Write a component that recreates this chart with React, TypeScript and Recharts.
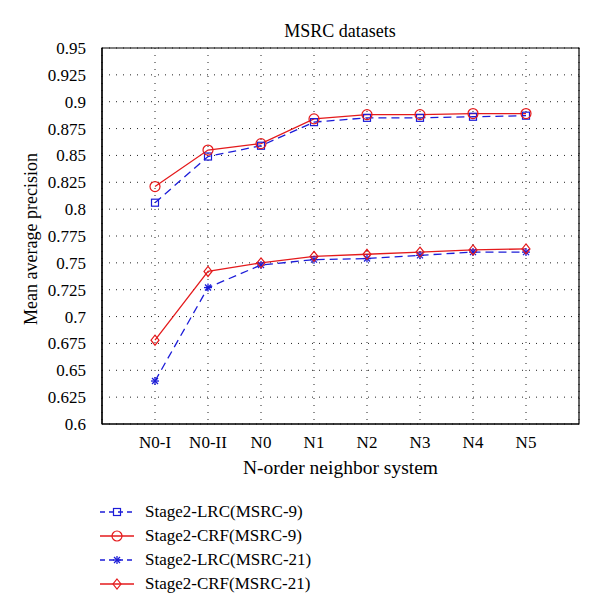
import { LineChart, Line, XAxis, YAxis, CartesianGrid, ReferenceArea } from 'recharts';

const categories = ['N0-I', 'N0-II', 'N0', 'N1', 'N2', 'N3', 'N4', 'N5'];
const lrc9 = [0.806, 0.849, 0.859, 0.881, 0.885, 0.885, 0.886, 0.887];
const crf9 = [0.821, 0.855, 0.861, 0.884, 0.888, 0.888, 0.889, 0.889];
const lrc21 = [0.640, 0.727, 0.748, 0.753, 0.754, 0.757, 0.760, 0.760];
const crf21 = [0.678, 0.742, 0.750, 0.756, 0.758, 0.760, 0.762, 0.763];
const yTicks = [0.6, 0.625, 0.65, 0.675, 0.7, 0.725, 0.75, 0.775, 0.8, 0.825, 0.85, 0.875, 0.9, 0.925, 0.95];

const data = categories.map((name, i) => ({
  x: i + 1,
  name,
  lrc9: lrc9[i],
  crf9: crf9[i],
  lrc21: lrc21[i],
  crf21: crf21[i],
}));

const BLUE = '#1c1cd8';
const RED = '#e41a1c';
const FONT = 'Liberation Serif';

const Square = ({ cx, cy }: any) => (
  <rect x={cx - 3.5} y={cy - 3.5} width={7} height={7} fill="none" stroke={BLUE} strokeWidth={1.2} />
);
const Circle = ({ cx, cy }: any) => <circle cx={cx} cy={cy} r={5} fill="none" stroke={RED} strokeWidth={1.2} />;
const Star = ({ cx, cy }: any) => (
  <g stroke={BLUE} strokeWidth={1.3}>
    <line x1={cx - 4} y1={cy} x2={cx + 4} y2={cy} />
    <line x1={cx} y1={cy - 4} x2={cx} y2={cy + 4} />
    <line x1={cx - 3} y1={cy - 3} x2={cx + 3} y2={cy + 3} />
    <line x1={cx - 3} y1={cy + 3} x2={cx + 3} y2={cy - 3} />
  </g>
);
const Diamond = ({ cx, cy }: any) => (
  <polygon
    points={`${cx},${cy - 5} ${cx + 4},${cy} ${cx},${cy + 5} ${cx - 4},${cy}`}
    fill="none"
    stroke={RED}
    strokeWidth={1.2}
  />
);

const legendItems = [
  { label: 'Stage2-LRC(MSRC-9)', color: BLUE, dash: '5 4', Marker: Square },
  { label: 'Stage2-CRF(MSRC-9)', color: RED, dash: undefined, Marker: Circle },
  { label: 'Stage2-LRC(MSRC-21)', color: BLUE, dash: '5 4', Marker: Star },
  { label: 'Stage2-CRF(MSRC-21)', color: RED, dash: undefined, Marker: Diamond },
];

const textStyle = { fill: '#000', fontSize: 17, fontFamily: FONT };

export default function App() {
  return (
    <div style={{ position: 'relative', width: 584, height: 598, fontFamily: FONT, background: '#fff' }}>
      <LineChart
        width={584}
        height={598}
        data={data}
        margin={{ top: 40, right: 13, bottom: 112, left: 0 }}
        style={{ fontFamily: FONT }}
      >
        <CartesianGrid stroke="#222" strokeDasharray="1 6" />
        <XAxis
          dataKey="x"
          type="number"
          domain={[0, 9]}
          ticks={[1, 2, 3, 4, 5, 6, 7, 8]}
          tickFormatter={(v: number) => categories[v - 1]}
          tickLine={false}
          axisLine={{ stroke: '#000', strokeWidth: 1.2 }}
          tick={textStyle}
          tickMargin={6}
          height={70}
          label={{ value: 'N-order neighbor system', position: 'insideBottom', offset: 20, ...textStyle, fontSize: 19.5 }}
        />
        <YAxis
          type="number"
          domain={[0.6, 0.95]}
          ticks={yTicks}
          tickFormatter={(v: number) => String(+v.toFixed(3))}
          tickLine={false}
          axisLine={{ stroke: '#000', strokeWidth: 1.2 }}
          tick={textStyle}
          tickMargin={10}
          width={94}
          interval={0}
          label={{ value: 'Mean average precision', angle: -90, position: 'insideLeft', offset: 23, dy: 89, ...textStyle, fontSize: 18 }}
        />
        <ReferenceArea x1={0} x2={9} y1={0.6} y2={0.95} fill="none" stroke="#000" strokeWidth={1.2} ifOverflow="visible" />
        <Line dataKey="lrc9" stroke={BLUE} strokeWidth={1.3} strokeDasharray="8 5" dot={<Square />} isAnimationActive={false} />
        <Line dataKey="crf9" stroke={RED} strokeWidth={1.3} dot={<Circle />} isAnimationActive={false} />
        <Line dataKey="lrc21" stroke={BLUE} strokeWidth={1.3} strokeDasharray="8 5" dot={<Star />} isAnimationActive={false} />
        <Line dataKey="crf21" stroke={RED} strokeWidth={1.3} dot={<Diamond />} isAnimationActive={false} />
        <text x={332} y={29} textAnchor="middle" fontSize={18} fontFamily={FONT} fill="#000">
          MSRC datasets
        </text>
      </LineChart>
      <div style={{ position: 'absolute', left: 92, top: 492 }}>
        {legendItems.map(({ label, color, dash, Marker }) => (
          <div key={label} style={{ display: 'flex', alignItems: 'center', height: 24 }}>
            <svg width={36} height={20}>
              <line x1={0} y1={10} x2={34} y2={10} stroke={color} strokeWidth={1.3} strokeDasharray={dash} />
              <Marker cx={17} cy={10} />
            </svg>
            <span style={{ marginLeft: 9, fontSize: 17, color: '#000', fontFamily: FONT }}>{label}</span>
          </div>
        ))}
      </div>
    </div>
  );
}
